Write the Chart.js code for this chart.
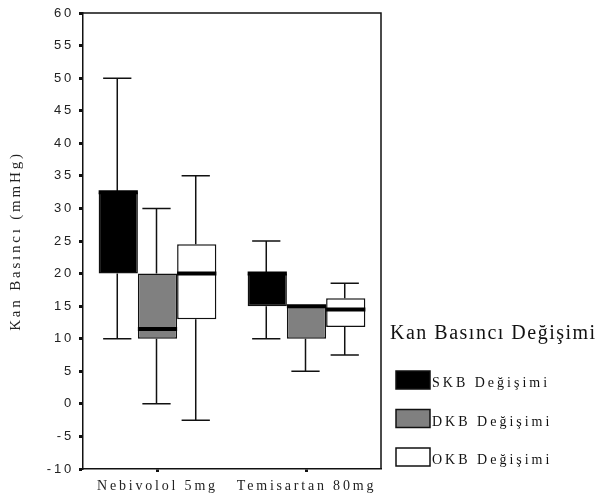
<!DOCTYPE html>
<html>
<head>
<meta charset="utf-8">
<script src="https://cdn.jsdelivr.net/npm/chart.js@4.4.0/dist/chart.umd.min.js"></script>
<style>
  html, body { margin: 0; padding: 0; background: #fff; }
  #wrap { width: 597px; height: 495px; position: relative; }
</style>
</head>
<body>
<div id="wrap"><canvas id="chart"></canvas></div>
<script>
const categories = ['Nebivolol 5mg', 'Temisartan 80mg'];
const seriesNames = ['SKB Değişimi', 'DKB Değişimi', 'OKB Değişimi'];
const seriesColors = ['#000000', '#808080', '#ffffff'];

// box plot values, one entry per category
const skbMin = [10, 10];
const skbQ1 = [20, 15];
const skbMedian = [32.5, 20];
const skbQ3 = [32.5, 20];
const skbMax = [50, 25];

const dkbMin = [0, 5];
const dkbQ1 = [10, 10];
const dkbMedian = [11.5, 15];
const dkbQ3 = [20, 15];
const dkbMax = [30, 15];

const okbMin = [-2.5, 7.5];
const okbQ1 = [13, 11.8];
const okbMedian = [20, 14.5];
const okbQ3 = [24.5, 16.2];
const okbMax = [35, 18.5];

const boxStats = [
  { min: skbMin, q1: skbQ1, med: skbMedian, q3: skbQ3, max: skbMax },
  { min: dkbMin, q1: dkbQ1, med: dkbMedian, q3: dkbQ3, max: dkbMax },
  { min: okbMin, q1: okbQ1, med: okbMedian, q3: okbQ3, max: okbMax },
];

const INK = '#111';

// whiskers behind the boxes, medians on top
const boxPlot = {
  id: 'boxPlot',
  beforeDatasetsDraw(chart) {
    const { ctx, scales: { y } } = chart;
    ctx.save();
    ctx.strokeStyle = INK;
    ctx.lineWidth = 1.5;
    chart.data.datasets.forEach((ds, di) => {
      const s = boxStats[di];
      chart.getDatasetMeta(di).data.forEach((bar, i) => {
        const half = bar.width * 0.36;
        const x = bar.x - 1;
        [[s.q3[i], s.max[i]], [s.q1[i], s.min[i]]].forEach(([from, to]) => {
          if (from === to) return;
          const y0 = y.getPixelForValue(from), y1 = y.getPixelForValue(to);
          ctx.beginPath();
          ctx.moveTo(x, y0); ctx.lineTo(x, y1);
          ctx.moveTo(x - half, y1); ctx.lineTo(x + half, y1);
          ctx.stroke();
        });
      });
    });
    ctx.restore();
  },
  afterDatasetsDraw(chart) {
    const { ctx, scales: { y } } = chart;
    ctx.save();
    ctx.strokeStyle = '#000';
    ctx.lineWidth = 4;
    chart.data.datasets.forEach((ds, di) => {
      const s = boxStats[di];
      chart.getDatasetMeta(di).data.forEach((bar, i) => {
        const ym = y.getPixelForValue(s.med[i]);
        ctx.beginPath();
        ctx.moveTo(bar.x - bar.width / 2, ym);
        ctx.lineTo(bar.x + bar.width / 2, ym);
        ctx.stroke();
      });
    });
    ctx.restore();
  }
};

// top and right edges of the plot frame
const frame = {
  id: 'frame',
  afterDraw(chart) {
    const { ctx, chartArea: a } = chart;
    ctx.save();
    ctx.strokeStyle = INK;
    ctx.lineWidth = 1.5;
    ctx.beginPath();
    ctx.moveTo(a.left, a.top);
    ctx.lineTo(a.right, a.top);
    ctx.lineTo(a.right, a.bottom);
    ctx.stroke();
    ctx.restore();
  }
};

const spacing = {
  id: 'spacing',
  beforeDraw(chart) { chart.ctx.letterSpacing = '2.8px'; },
  afterDraw(chart) { chart.ctx.letterSpacing = '0px'; }
};

const sideLegend = {
  id: 'sideLegend',
  afterDraw(chart) {
    const { ctx } = chart;
    ctx.save();
    ctx.fillStyle = '#111';
    ctx.textBaseline = 'alphabetic';
    ctx.letterSpacing = '1.5px';
    ctx.font = '20px "Liberation Serif"';
    ctx.fillText('Kan Basıncı Değişimi', 390, 339);
    ctx.font = '14px "Liberation Serif"';
    ctx.letterSpacing = '3px';
    chart.data.datasets.forEach((ds, i) => {
      const top = 371 + i * 38.5;
      ctx.fillStyle = ds.backgroundColor;
      ctx.fillRect(396, top, 34, 18);
      ctx.strokeStyle = INK;
      ctx.lineWidth = 1.5;
      ctx.strokeRect(396, top, 34, 18);
      ctx.fillStyle = '#111';
      ctx.fillText(ds.label, 432, top + 16);
    });
    ctx.restore();
  }
};

new Chart(document.getElementById('chart'), {
  type: 'bar',
  data: {
    labels: categories,
    datasets: seriesNames.map((name, di) => ({
      label: name,
      data: categories.map((c, i) => [boxStats[di].q1[i], boxStats[di].q3[i]]),
      backgroundColor: seriesColors[di],
      borderColor: INK,
      borderWidth: 1.5,
      borderSkipped: false,
      categoryPercentage: 0.79,
      barPercentage: 1
    }))
  },
  options: {
    responsive: true,
    maintainAspectRatio: false,
    animation: false,
    layout: { padding: { top: 13, right: 216, left: 0, bottom: 0 } },
    plugins: {
      legend: { display: false },
      tooltip: { enabled: false }
    },
    scales: {
      x: {
        offset: true,
        ticks: { color: '#222', font: { family: 'Liberation Serif', size: 14 }, padding: 6, maxRotation: 0 },
        grid: { offset: false, drawOnChartArea: false, tickLength: 3, tickWidth: 3, tickColor: INK },
        border: { color: INK, width: 1.5 },
        afterFit(scale) { scale.height = 26; }
      },
      y: {
        min: -10,
        max: 60,
        ticks: { stepSize: 5, color: '#222', font: { family: 'Liberation Sans', size: 13 }, padding: 5 },
        grid: { drawOnChartArea: false, tickLength: 4, tickWidth: 3, tickColor: INK },
        border: { color: INK, width: 1.5 },
        title: {
          display: true,
          text: 'Kan Basıncı (mmHg)',
          color: '#222',
          font: { family: 'Liberation Serif', size: 15 },
          padding: { top: 7, bottom: 0 }
        },
        afterFit(scale) { scale.width = 83; }
      }
    }
  },
  plugins: [spacing, boxPlot, frame, sideLegend]
});
</script>
</body>
</html>
